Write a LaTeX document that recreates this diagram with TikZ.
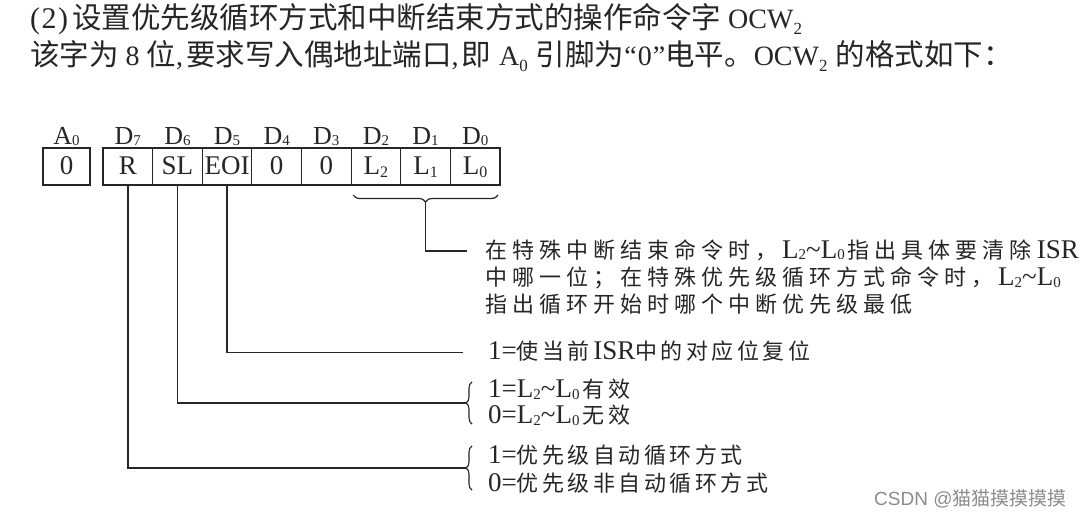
\documentclass[tikz,border=0pt]{standalone}
\usepackage{fontspec}
\setmainfont{Liberation Serif}
\newfontfamily\cjk{Noto Sans CJK SC}
\newfontfamily\wmfont{Liberation Sans}
\usetikzlibrary{decorations.pathreplacing}
\definecolor{ink}{HTML}{262626}
\definecolor{wmgray}{HTML}{8C8C8C}
\newdimen\cjkgap
\def\trk#1{\ifx#1\relax\else#1\kern\cjkgap\expandafter\trk\fi}
\newcommand\CJ[1]{{\cjk\fontsize{22}{22}\selectfont\trk#1\relax}}
\newcommand\TJ[1]{{\cjk\fontsize{29.5}{29.5}\selectfont #1}}
\newcommand\sbs[1]{\raisebox{-1.5pt}{\fontsize{15}{15}\selectfont #1}}
\newcommand\csb[1]{\raisebox{-3pt}{\fontsize{16}{16}\selectfont #1}}
\newcommand\lsb[1]{\raisebox{-0.5pt}{\fontsize{15}{15}\selectfont #1}}
\newcommand\tsb[1]{\raisebox{-6pt}{\fontsize{17}{17}\selectfont #1}}
\begin{document}
\begin{tikzpicture}[x=1pt,y=-1pt,
  every node/.style={text=ink},
  cell/.style={draw=ink, line width=1.1pt, outer sep=0pt, minimum width=49.625pt,
    minimum height=37pt, inner xsep=0pt, inner ysep=0pt, text height=18pt, text depth=2pt,
    font={\fontsize{27}{27}\selectfont}},
  lbl/.style={anchor=base, inner sep=0pt, font={\fontsize{26}{26}\selectfont}},
  ttl/.style={anchor=base west, inner sep=0pt, font={\fontsize{28}{28}\selectfont}},
  ann/.style={anchor=base west, inner sep=0pt, font={\fontsize{27}{27}\selectfont\cjkgap=5pt}},
  low/.style={anchor=base west, inner sep=0pt, font={\fontsize{27}{27}\selectfont\cjkgap=3.5pt}},
  conn/.style={draw=ink, line width=1.4pt},
  brc/.style={draw=ink, line width=1.1pt, decorate, decoration={brace, amplitude=6pt}},
  ]
\fill[white] (0,0) rectangle (1087,524);
\useasboundingbox (0,0) rectangle (1087,524);

% title lines
\node[ttl] (t1) at (30,28.5) {{\fontsize{30}{30}\selectfont(\kern1.5pt 2\kern1.5pt)}\kern4pt\TJ{设置优先级循环方式和中断结束方式的操作命令字}\kern7pt OCW\tsb{2}};
\node[ttl] (t2) at (30,65.5) {\TJ{该字为}\kern7pt 8\kern7pt\TJ{位},\kern3pt\TJ{要求写入偶地址端口},\kern3pt\TJ{即}\kern8pt A\tsb{0}\kern8pt\TJ{引脚为}“\kern1pt 0\kern1pt”\TJ{电平。}OCW\tsb{2}\kern8pt\TJ{的格式如下：}};

% register cells
\node[cell, minimum width=47pt] (a0) at (66.5,166.5) {0};
\node[cell] (cR)   at (127.8125,166.5) {R};
\node[cell] (cSL)  at (177.4375,166.5) {SL};
\node[cell] (cEOI) at (227.0625,166.5) {EOI};
\node[cell] (c4)   at (276.6875,166.5) {0};
\node[cell] (c3)   at (326.3125,166.5) {0};
\node[cell] (cL2)  at (375.9375,166.5) {L\csb{2}};
\node[cell] (cL1)  at (425.5625,166.5) {L\csb{1}};
\node[cell] (cL0)  at (475.1875,166.5) {L\csb{0}};
\draw[draw=ink, line width=2.4pt] (a0.north west) rectangle (a0.south east);
\draw[draw=ink, line width=2.4pt] (cR.north west) rectangle (cL0.south east);

% bit labels
\node[lbl] (lA) at (66.5,145) {A\lsb{0}};
\node[lbl] (l7) at (127.8125,145) {D\lsb{7}};
\node[lbl] (l6) at (177.4375,145) {D\lsb{6}};
\node[lbl] (l5) at (227.0625,145) {D\lsb{5}};
\node[lbl] (l4) at (276.6875,145) {D\lsb{4}};
\node[lbl] (l3) at (326.3125,145) {D\lsb{3}};
\node[lbl] (l2) at (375.9375,145) {D\lsb{2}};
\node[lbl] (l1) at (425.5625,145) {D\lsb{1}};
\node[lbl] (l0) at (475.1875,145) {D\lsb{0}};

% brace under L2..L0
\draw[draw=ink, line width=1.2pt, decorate, decoration={brace, mirror, amplitude=7pt}]
  ([shift={(2,10)}]cL2.south west) -- ([shift={(-2,10)}]cL0.south east);
\coordinate (bt) at (425.5,202);
\coordinate (eA) at (467,251);
\draw[conn] (bt) |- (eA);

% annotation text
\node[ann] (a1) at (485,258) {\CJ{在特殊中断结束命令时，}L\sbs{2}\textasciitilde L\sbs{0}\kern3pt\CJ{指出具体要清除}ISR};
\node[ann] (a2) at (485,285.5) {\CJ{中哪一位；在特殊优先级循环方式命令时，}L\sbs{2}\textasciitilde L\sbs{0}};
\node[ann] (a3) at (485,312) {\CJ{指出循环开始时哪个中断优先级最低}};

% EOI
\coordinate (eE) at (463,352.5);
\draw[conn] (cEOI.south) |- (eE);
\node[low] (tE) at (488,359.5) {1=\CJ{使当前}ISR\CJ{中的对应位复位}};

% SL
\draw[brc] (472,424) -- (472,382);
\coordinate (bS) at (466,403);
\draw[conn] (cSL.south) |- (bS);
\node[low] (tS1) at (488,397.5) {1=L\sbs{2}\textasciitilde L\sbs{0}\kern3pt\CJ{有效}};
\node[low] (tS0) at (488,423.5) {0=L\sbs{2}\textasciitilde L\sbs{0}\kern3pt\CJ{无效}};

% R
\draw[brc] (472,490) -- (472,446);
\coordinate (bR) at (466,468);
\draw[conn] (cR.south) |- (bR);
\node[low] (tR1) at (488,463.5) {1=\CJ{优先级自动循环方式}};
\node[low] (tR0) at (488,491.5) {0=\CJ{优先级非自动循环方式}};

% watermark
\node[anchor=base west, inner sep=0pt, text=wmgray, font={\wmfont\fontsize{19}{19}\selectfont}] (wm) at (874,505) {CSDN @{\cjk 猫猫摸摸摸摸}};
\end{tikzpicture}
\end{document}
